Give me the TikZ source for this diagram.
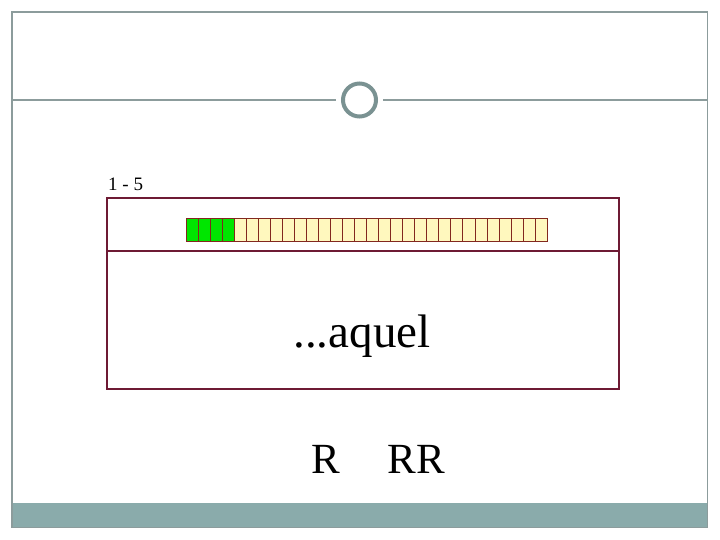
\documentclass[tikz,border=0pt]{standalone}
\usepackage{fontspec}
\setmainfont{Liberation Serif}
\definecolor{framegray}{RGB}{140,156,156}
\definecolor{bargray}{RGB}{138,171,171}
\definecolor{ringgray}{RGB}{122,146,146}
\definecolor{boxred}{RGB}{110,26,52}
\definecolor{cellyellow}{RGB}{255,248,190}
\definecolor{cellgreen}{RGB}{0,230,0}
\definecolor{celledge}{RGB}{130,40,30}
\tikzset{
  cellbox/.style={draw=celledge, line width=0.9pt},
  redbox/.style={draw=boxred, line width=1.8pt},
}
\begin{document}
\begin{tikzpicture}[x=1pt,y=-1pt]
\useasboundingbox (0,0) rectangle (720,540);
% bottom bar and frame
\fill[bargray] (12,503) rectangle (707.5,527.5);
\draw[framegray, line width=1.2pt] (12,12) rectangle (707.5,527.5);
% horizontal rule with ring
\coordinate (ruleL) at (12,100);
\coordinate (ruleR) at (707.5,100);
\node[circle, draw=ringgray, line width=4pt, minimum size=33pt, inner sep=0pt] (ring) at (359.5,100) {};
\draw[framegray, line width=1.2pt] (ruleL) -- (336,100);
\draw[framegray, line width=1.2pt] (383,100) -- (ruleR);
% label
\node[anchor=base west, font=\fontsize{19}{21}\selectfont, inner sep=0pt] (lbl) at (108,191) {1 - 5};
% red box
\draw[redbox] (107,198) rectangle (619,389);
\draw[redbox] (107,251) -- (619,251);
% cells
\foreach \i in {0,...,29} {
  \pgfmathsetmacro{\xa}{186+\i*12.04}
  \ifnum\i<4
    \filldraw[cellbox, fill=cellgreen] (\xa,218) rectangle ++(12.04,23);
  \else
    \filldraw[cellbox, fill=cellyellow] (\xa,218) rectangle ++(12.04,23);
  \fi
}
% texts
\node[anchor=base, font=\fontsize{47}{50}\selectfont, inner sep=0pt] (word) at (362,347) {...aquel};
\node[anchor=base, font=\fontsize{43}{48}\selectfont, inner sep=0pt] (r1) at (326,473) {R};
\node[anchor=base, font=\fontsize{43}{48}\selectfont, inner sep=0pt] (r2) at (416.5,473) {RR};
\end{tikzpicture}
\end{document}
